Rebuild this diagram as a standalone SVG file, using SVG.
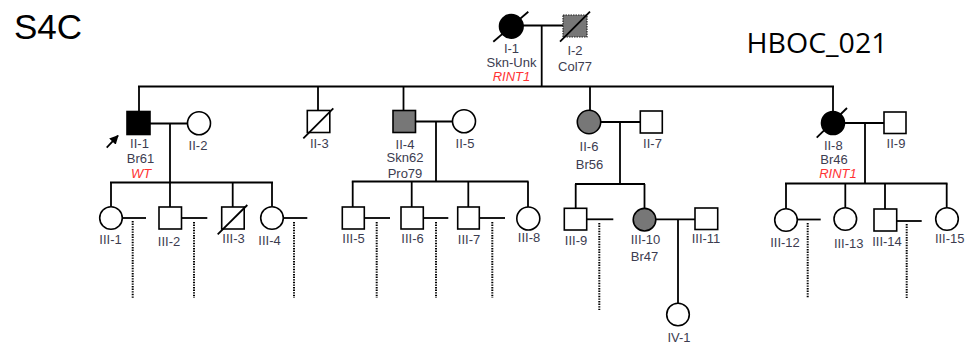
<svg xmlns="http://www.w3.org/2000/svg" width="976" height="343" viewBox="0 0 976 343">
<style>
.ln{stroke:#000;stroke-width:1.8;fill:none}
.dot{stroke:#000;stroke-width:2;stroke-dasharray:1.4 1.2;fill:none}
.sh{stroke:#000;stroke-width:1.6;fill:#fff}
.aff{fill:#000}
.gr{fill:#777}
.lb{font-family:"Liberation Sans",Arial,sans-serif;font-size:13px;fill:#3c3c50;text-anchor:middle}
.red{fill:#ff3333;font-style:italic}
.sl{stroke:#000;stroke-width:1.8}
</style>
<defs>
<marker id="ah" viewBox="0 0 10 10" refX="9" refY="5" markerWidth="5" markerHeight="5" orient="auto">
<path d="M0,0 L10,5 L0,10 z" fill="#000"/>
</marker>
</defs>
<rect width="976" height="343" fill="#fff"/>
<text x="14" y="39" font-family="Liberation Sans,Arial,sans-serif" font-size="35" fill="#000">S4C</text>
<text x="746.5" y="53" font-family="Open Sans,Liberation Sans,sans-serif" font-size="27" textLength="141" lengthAdjust="spacingAndGlyphs" fill="#000">HBOC_021</text>

<g id="connectors">
<line class="ln" x1="523" y1="25.5" x2="563" y2="25.5"/>
<line class="ln" x1="541.7" y1="25.5" x2="541.7" y2="86.5"/>
<line class="ln" x1="138" y1="86.5" x2="834" y2="86.5"/>
<line class="ln" x1="139" y1="86.5" x2="139" y2="111.5"/>
<line class="ln" x1="318" y1="86.5" x2="318" y2="110"/>
<line class="ln" x1="403.5" y1="86.5" x2="403.5" y2="110.5"/>
<line class="ln" x1="590" y1="86.5" x2="590" y2="110"/>
<line class="ln" x1="833" y1="86.5" x2="833" y2="111.5"/>
<line class="ln" x1="150" y1="123.5" x2="187.5" y2="123.5"/>
<line class="ln" x1="170" y1="123.5" x2="170" y2="182.5"/>
<line class="ln" x1="110" y1="182.5" x2="273" y2="182.5"/>
<line class="ln" x1="111" y1="182.5" x2="111" y2="206.5"/>
<line class="ln" x1="170" y1="182.5" x2="170" y2="207"/>
<line class="ln" x1="232.7" y1="182.5" x2="232.7" y2="207"/>
<line class="ln" x1="272" y1="182.5" x2="272" y2="206.5"/>
<line class="ln" x1="122.5" y1="218" x2="146" y2="218"/>
<line class="dot" x1="132.7" y1="221" x2="132.7" y2="298"/>
<line class="ln" x1="181.5" y1="218" x2="207.3" y2="218"/>
<line class="dot" x1="194" y1="222" x2="194" y2="298"/>
<line class="ln" x1="283.5" y1="218" x2="307.3" y2="218"/>
<line class="dot" x1="294" y1="222" x2="294" y2="298"/>
<line class="ln" x1="415.5" y1="121.5" x2="452.5" y2="121.5"/>
<line class="ln" x1="436" y1="121.5" x2="436" y2="181.5"/>
<line class="ln" x1="351.8" y1="181.5" x2="528.5" y2="181.5"/>
<line class="ln" x1="352.7" y1="181.5" x2="352.7" y2="207"/>
<line class="ln" x1="411.7" y1="181.5" x2="411.7" y2="207"/>
<line class="ln" x1="468.3" y1="181.5" x2="468.3" y2="207"/>
<line class="ln" x1="528" y1="181.5" x2="528" y2="207"/>
<line class="ln" x1="364.3" y1="218" x2="390" y2="218"/>
<line class="dot" x1="376.7" y1="222" x2="376.7" y2="298"/>
<line class="ln" x1="423.3" y1="218" x2="448.3" y2="218"/>
<line class="dot" x1="436" y1="222" x2="436" y2="298"/>
<line class="ln" x1="479.3" y1="218" x2="505" y2="218"/>
<line class="dot" x1="492.3" y1="222" x2="492.3" y2="298"/>
<line class="ln" x1="601" y1="122" x2="640" y2="122"/>
<line class="ln" x1="620" y1="122" x2="620" y2="184"/>
<line class="ln" x1="575" y1="184" x2="645" y2="184"/>
<line class="ln" x1="575.7" y1="184" x2="575.7" y2="208.3"/>
<line class="ln" x1="644.5" y1="184" x2="644.5" y2="208.4"/>
<line class="ln" x1="586.7" y1="219.3" x2="613.3" y2="219.3"/>
<line class="dot" x1="599.3" y1="223" x2="599.3" y2="310"/>
<line class="ln" x1="655.8" y1="219.3" x2="695" y2="219.3"/>
<line class="ln" x1="678" y1="219.3" x2="678" y2="303.2"/>
<line class="ln" x1="844.5" y1="123" x2="884" y2="123"/>
<line class="ln" x1="865" y1="123" x2="865" y2="183.5"/>
<line class="ln" x1="785" y1="183.5" x2="947.5" y2="183.5"/>
<line class="ln" x1="786" y1="183.5" x2="786" y2="208.7"/>
<line class="ln" x1="845.3" y1="183.5" x2="845.3" y2="207.7"/>
<line class="ln" x1="885" y1="183.5" x2="885" y2="209"/>
<line class="ln" x1="946.7" y1="183.5" x2="946.7" y2="207.7"/>
<line class="ln" x1="797.3" y1="219.5" x2="820.7" y2="219.5"/>
<line class="dot" x1="807.7" y1="223" x2="807.7" y2="298"/>
<line class="ln" x1="896.7" y1="221" x2="921.7" y2="221"/>
<line class="dot" x1="906.7" y1="224" x2="906.7" y2="298"/>
<line class="ln" x1="106.7" y1="147.7" x2="118" y2="135.7" stroke-width="1.6" marker-end="url(#ah)"/>
</g>

<g id="I-1">
<circle class="sh aff" cx="511.3" cy="26.3" r="11.8"/>
<line class="sl" x1="493.3" y1="41.7" x2="528.3" y2="11.7"/>
<text class="lb" x="511.5" y="53.2">I-1</text>
<text class="lb" x="511.5" y="67.1">Skn-Unk</text>
<text class="lb red" x="511.5" y="80.6">RINT1</text>
</g>
<g id="I-2">
<rect x="563" y="15" width="24" height="22" fill="#777" stroke="#222" stroke-width="1.2" stroke-dasharray="1.5 1"/>
<line class="sl" x1="560" y1="41.7" x2="590" y2="11.7"/>
<text class="lb" x="575" y="55">I-2</text>
<text class="lb" x="575" y="71">Col77</text>
</g>

<g id="II-1">
<rect class="sh aff" x="127" y="111.5" width="23" height="23"/>
<text class="lb" x="139.5" y="148">II-1</text>
<text class="lb" x="140.5" y="163">Br61</text>
<text class="lb red" x="141" y="177.5">WT</text>
</g>
<g id="II-2">
<circle class="sh" cx="199" cy="123.3" r="11.5"/>
<text class="lb" x="198" y="150">II-2</text>
</g>
<g id="II-3">
<rect class="sh" x="307.3" y="110.5" width="22.5" height="22"/>
<line class="sl" x1="303.3" y1="138.3" x2="333.3" y2="108.3"/>
<text class="lb" x="319.3" y="148.3">II-3</text>
</g>
<g id="II-4">
<rect class="sh gr" x="393" y="110.5" width="22.5" height="22"/>
<text class="lb" x="405" y="148.5">II-4</text>
<text class="lb" x="405" y="162.3">Skn62</text>
<text class="lb" x="405" y="177.5">Pro79</text>
</g>
<g id="II-5">
<circle class="sh" cx="464" cy="121.3" r="11.5"/>
<text class="lb" x="465" y="148.3">II-5</text>
</g>
<g id="II-6">
<circle class="sh gr" cx="589" cy="122" r="11.7"/>
<text class="lb" x="589" y="151">II-6</text>
<text class="lb" x="589.5" y="169">Br56</text>
</g>
<g id="II-7">
<rect class="sh" x="640.3" y="111" width="22" height="22"/>
<text class="lb" x="652.5" y="147.7">II-7</text>
</g>
<g id="II-8">
<circle class="sh aff" cx="833" cy="123" r="11.5"/>
<line class="sl" x1="816.7" y1="137.7" x2="847" y2="108"/>
<text class="lb" x="833.3" y="149.9">II-8</text>
<text class="lb" x="834" y="163.8">Br46</text>
<text class="lb red" x="838" y="177.8">RINT1</text>
</g>
<g id="II-9">
<rect class="sh" x="884" y="112" width="22" height="21.5"/>
<text class="lb" x="896" y="147.7">II-9</text>
</g>

<g id="III-1">
<circle class="sh" cx="111" cy="218" r="11.3"/>
<text class="lb" x="110.5" y="244">III-1</text>
</g>
<g id="III-2">
<rect class="sh" x="159" y="207" width="22.5" height="22"/>
<text class="lb" x="169" y="246">III-2</text>
</g>
<g id="III-3">
<rect class="sh" x="221.7" y="207" width="22.5" height="22"/>
<line class="sl" x1="217.7" y1="234.3" x2="247.3" y2="205"/>
<text class="lb" x="233.5" y="243.3">III-3</text>
</g>
<g id="III-4">
<circle class="sh" cx="272" cy="218" r="11.3"/>
<text class="lb" x="269.5" y="245">III-4</text>
</g>
<g id="III-5">
<rect class="sh" x="342.3" y="207" width="22" height="22"/>
<text class="lb" x="353.5" y="243.3">III-5</text>
</g>
<g id="III-6">
<rect class="sh" x="401" y="207" width="22.3" height="22"/>
<text class="lb" x="412.5" y="243.3">III-6</text>
</g>
<g id="III-7">
<rect class="sh" x="457.7" y="207" width="21.6" height="22"/>
<text class="lb" x="469" y="244">III-7</text>
</g>
<g id="III-8">
<circle class="sh" cx="528.3" cy="218.5" r="11.5"/>
<text class="lb" x="529" y="242">III-8</text>
</g>
<g id="III-9">
<rect class="sh" x="564.3" y="208.3" width="22.4" height="21.7"/>
<text class="lb" x="576" y="245">III-9</text>
</g>
<g id="III-10">
<circle class="sh gr" cx="644.5" cy="219.7" r="11.3"/>
<text class="lb" x="645.5" y="244">III-10</text>
<text class="lb" x="644.5" y="261">Br47</text>
</g>
<g id="III-11">
<rect class="sh" x="695" y="208" width="22.7" height="21.5"/>
<text class="lb" x="706" y="243">III-11</text>
</g>
<g id="IV-1">
<circle class="sh" cx="678" cy="314.5" r="11.3"/>
<text class="lb" x="679" y="341.5">IV-1</text>
</g>
<g id="III-12">
<circle class="sh" cx="786" cy="220" r="11.3"/>
<text class="lb" x="785" y="246.5">III-12</text>
</g>
<g id="III-13">
<circle class="sh" cx="845.3" cy="219" r="11.3"/>
<text class="lb" x="848.7" y="248">III-13</text>
</g>
<g id="III-14">
<rect class="sh" x="874" y="209" width="22.7" height="22"/>
<text class="lb" x="887" y="246">III-14</text>
</g>
<g id="III-15">
<circle class="sh" cx="947" cy="219" r="11.3"/>
<text class="lb" x="949.7" y="242.5">III-15</text>
</g>
</svg>
